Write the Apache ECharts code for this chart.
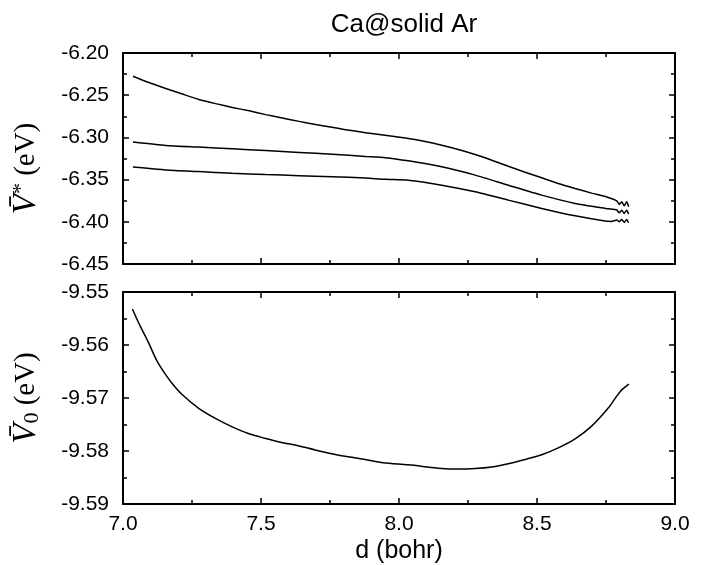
<!DOCTYPE html>
<html>
<head>
<meta charset="utf-8">
<script src="https://cdn.jsdelivr.net/npm/echarts@6/dist/echarts.min.js"></script>
<style>html,body{margin:0;padding:0;background:#fff}#c{width:704px;height:565px}</style>
</head>
<body>
<div id="c"></div>
<script>
// ---- Data ----
const titleText = 'Ca@solid Ar';
const xName = 'd (bohr)';

// Upper panel: three curves of V* (eV) vs d (bohr)
const xUpper1 = [7.036,7.094,7.155,7.215,7.275,7.336,7.396,7.457,7.517,7.577,7.638,7.698,7.758,7.819,7.879,7.950,8.034,8.095,8.155,8.215,8.276,8.336,8.396,8.457,8.517,8.577,8.638,8.698,8.758,8.789,8.798,8.807,8.816,8.825,8.832];
const yUpper1 = [-6.2275,-6.2350,-6.2420,-6.2486,-6.2550,-6.2600,-6.2645,-6.2685,-6.2730,-6.2770,-6.2810,-6.2848,-6.2880,-6.2916,-6.2944,-6.2975,-6.3013,-6.3049,-6.3092,-6.3143,-6.3203,-6.3270,-6.3341,-6.3412,-6.3479,-6.3546,-6.3605,-6.3660,-6.3711,-6.3751,-6.3794,-6.3763,-6.3811,-6.3763,-6.3822];

const xUpper2 = [7.036,7.155,7.275,7.396,7.517,7.638,7.758,7.879,7.950,8.034,8.155,8.276,8.396,8.517,8.638,8.758,8.789,8.798,8.807,8.816,8.825,8.832];
const yUpper2 = [-6.3055,-6.3095,-6.3115,-6.3135,-6.3155,-6.3178,-6.3200,-6.3226,-6.3240,-6.3278,-6.3349,-6.3447,-6.3566,-6.3684,-6.3782,-6.3845,-6.3860,-6.3893,-6.3862,-6.3901,-6.3862,-6.3909];

const xUpper3 = [7.036,7.155,7.275,7.396,7.517,7.638,7.758,7.879,7.950,8.034,8.155,8.276,8.396,8.517,8.638,8.746,8.770,8.789,8.798,8.807,8.816,8.825,8.832];
const yUpper3 = [-6.3350,-6.3385,-6.3405,-6.3425,-6.3440,-6.3453,-6.3465,-6.3480,-6.3497,-6.3507,-6.3566,-6.3645,-6.3743,-6.3842,-6.3929,-6.3990,-6.3995,-6.3980,-6.4000,-6.3972,-6.4007,-6.3972,-6.4012];

// Lower panel: V0 (eV) vs d (bohr)
const xLower = [7.034,7.062,7.092,7.122,7.152,7.182,7.213,7.273,7.333,7.394,7.454,7.514,7.575,7.635,7.696,7.756,7.816,7.877,7.943,8.034,8.155,8.215,8.276,8.336,8.396,8.457,8.517,8.577,8.638,8.698,8.758,8.801,8.833];
const yLower = [-9.5532,-9.5564,-9.5595,-9.5629,-9.5654,-9.5675,-9.5693,-9.5719,-9.5738,-9.5754,-9.5767,-9.5776,-9.5784,-9.5790,-9.5798,-9.5805,-9.5811,-9.5816,-9.5822,-9.5826,-9.5833,-9.5834,-9.5833,-9.5830,-9.5824,-9.5816,-9.5807,-9.5794,-9.5777,-9.5753,-9.5719,-9.5688,-9.5674];

// Axis ranges / ticks
const xMin = 7.0, xMax = 9.0, xStep = 0.5;
const yUpperMin = -6.45, yUpperMax = -6.20, yUpperStep = 0.05;
const yLowerMin = -9.59, yLowerMax = -9.55, yLowerStep = 0.01;

// ---- Chart ----
const zip = (xs, ys) => xs.map((x, i) => [x, ys[i]]);
const FONT = '"Liberation Sans", Arial, Helvetica, sans-serif';
const SERIF = '"Liberation Serif", "DejaVu Serif", "Times New Roman", serif';

function xAx(gridIndex, position, showLabel) {
  return {
    type: 'value', gridIndex, position, min: xMin, max: xMax, interval: xStep,
    axisLine: { show: true, onZero: false, lineStyle: { color: '#000', width: 2 } },
    axisTick: { show: true, inside: true, length: 6, lineStyle: { color: '#000', width: 1.5 } },
    minorTick: { show: true, splitNumber: 2, length: 4, lineStyle: { color: '#000', width: 1.5 } },
    splitLine: { show: false }, minorSplitLine: { show: false },
    axisLabel: { show: showLabel, color: '#000', fontFamily: FONT, fontSize: 21, margin: 10,
                 formatter: v => v.toFixed(1) },
    name: showLabel ? xName : '', nameLocation: 'middle', nameGap: 35,
    nameTextStyle: { color: '#000', fontFamily: FONT, fontSize: 25 }
  };
}
function yAx(gridIndex, position, min, max, step, showLabel, name, shiftPad) {
  return {
    type: 'value', gridIndex, position, min, max, interval: step,
    axisLine: { show: true, onZero: false, lineStyle: { color: '#000', width: 2 } },
    axisTick: { show: true, inside: true, length: 6, lineStyle: { color: '#000', width: 1.5 } },
    minorTick: { show: true, splitNumber: 2, length: 4, lineStyle: { color: '#000', width: 1.5 } },
    splitLine: { show: false }, minorSplitLine: { show: false },
    axisLabel: { show: showLabel, color: '#000', fontFamily: FONT, fontSize: 21, margin: 14,
                 formatter: v => v.toFixed(2) },
    name: name || '', nameLocation: 'middle', nameRotate: 90, nameGap: 80,
    nameTextStyle: {
      color: '#000', fontFamily: SERIF, fontSize: 29,
      padding: [0, shiftPad || 0, 0, 0],
      rich: {
        v: { fontFamily: SERIF, fontStyle: 'italic', fontSize: 33, color: '#000' },
        sup: { fontFamily: SERIF, fontSize: 22, color: '#000', verticalAlign: 'top' },
        sub: { fontFamily: SERIF, fontSize: 22, color: '#000', verticalAlign: 'bottom' },
        n: { fontFamily: SERIF, fontSize: 29, color: '#000' }
      }
    }
  };
}
function line(xi, yi, xs, ys, smooth) {
  return {
    type: 'line', xAxisIndex: xi, yAxisIndex: yi, data: zip(xs, ys),
    showSymbol: false, symbol: 'none', smooth: smooth || false,
    lineStyle: { color: '#000', width: 1.5 }, silent: true
  };
}

const chart = echarts.init(document.getElementById('c'), null, { renderer: 'canvas' });
chart.setOption({
  backgroundColor: '#fff',
  animation: false,
  title: { text: titleText, left: 399, top: 7, textAlign: 'center',
           textStyle: { color: '#000', fontFamily: FONT, fontSize: 26, fontWeight: 'normal' } },
  grid: [
    { left: 123, right: 29, top: 53, height: 211 },
    { left: 123, right: 29, top: 292, height: 216 }
  ],
  xAxis: [ xAx(0, 'bottom', false), xAx(0, 'top', false), xAx(1, 'bottom', true), xAx(1, 'top', false) ],
  yAxis: [
    yAx(0, 'left', yUpperMin, yUpperMax, yUpperStep, true, '{v|V\u0304}{sup|*}{n| (eV)}', 20),
    yAx(0, 'right', yUpperMin, yUpperMax, yUpperStep, false, ''),
    yAx(1, 'left', yLowerMin, yLowerMax, yLowerStep, true, '{v|V\u0304}{sub|0}{n| (eV)}', 0),
    yAx(1, 'right', yLowerMin, yLowerMax, yLowerStep, false, '')
  ],
  series: [
    line(0, 0, xUpper1, yUpper1, 0.2),
    line(0, 0, xUpper2, yUpper2, 0.2),
    line(0, 0, xUpper3, yUpper3, 0.2),
    line(2, 2, xLower, yLower, 0.3)
  ]
});
</script>
</body>
</html>
